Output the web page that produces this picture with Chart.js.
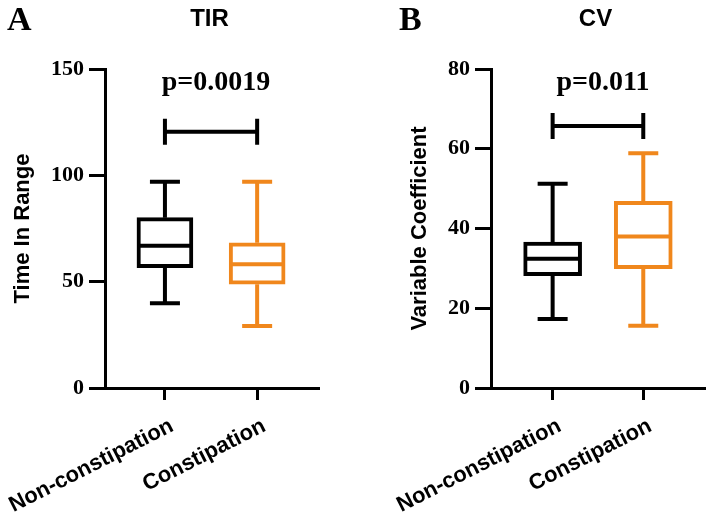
<!DOCTYPE html>
<html>
<head>
<meta charset="utf-8">
<script src="https://cdn.jsdelivr.net/npm/chart.js@4.4.1/dist/chart.umd.min.js"></script>
<style>
  html, body { margin: 0; padding: 0; background: #fff; }
  #wrap { position: relative; width: 708px; height: 513px; overflow: hidden; }
  canvas { position: absolute; top: 0; }
  #cA { left: 0; }
  #cB { left: 354px; }
</style>
</head>
<body>
<div id="wrap">
  <canvas id="cA" width="354" height="513"></canvas>
  <canvas id="cB" width="354" height="513"></canvas>
</div>
<script>
// ---------- data ----------
const categories = ['Non-constipation', 'Constipation'];
const seriesColors = ['#000000', '#F0871C'];

// Panel A: TIR (Time In Range)
const tirMin    = [39.8, 29.2];
const tirQ1     = [56.6, 48.8];
const tirMedian = [66.9, 58.2];
const tirQ3     = [80.1, 68.3];
const tirMax    = [97.0, 97.0];
const tirTicks  = [0, 50, 100, 150];
const tirBracket = 120.5;
const tirPText  = 'p=0.0019';

// Panel B: CV (Variable Coefficient)
const cvMin    = [17.3, 15.6];
const cvQ1     = [28.2, 29.9];
const cvMedian = [32.4, 38.0];
const cvQ3     = [36.6, 46.8];
const cvMax    = [51.2, 58.9];
const cvTicks  = [0, 20, 40, 60, 80];
const cvBracket = 65.7;
const cvPText  = 'p=0.011';

// ---------- helpers ----------
function makeBoxPlugin(stats, panel) {
  return {
    id: 'boxExtras' + panel.letter,
    afterDatasetsDraw(chart) {
      const ctx = chart.ctx;
      const xs = chart.scales.x, ys = chart.scales.y;
      const capHalf = 15;
      ctx.save();
      ctx.lineWidth = 4;
      ctx.lineCap = 'butt';
      for (let i = 0; i < categories.length; i++) {
        const cx = xs.getPixelForValue(i + 1);
        const yMin = ys.getPixelForValue(stats.min[i]);
        const yQ1 = ys.getPixelForValue(stats.q1[i]);
        const yMed = ys.getPixelForValue(stats.median[i]);
        const yQ3 = ys.getPixelForValue(stats.q3[i]);
        const yMax = ys.getPixelForValue(stats.max[i]);
        const half = panel.boxWidth / 2;
        ctx.strokeStyle = seriesColors[i];
        ctx.beginPath();
        // whiskers
        ctx.moveTo(cx, yQ1); ctx.lineTo(cx, yMin);
        ctx.moveTo(cx, yQ3); ctx.lineTo(cx, yMax);
        // caps
        ctx.moveTo(cx - capHalf, yMin); ctx.lineTo(cx + capHalf, yMin);
        ctx.moveTo(cx - capHalf, yMax); ctx.lineTo(cx + capHalf, yMax);
        // median
        ctx.moveTo(cx - half + 2, yMed); ctx.lineTo(cx + half - 2, yMed);
        ctx.stroke();
      }
      // significance bracket
      const x1 = xs.getPixelForValue(1), x2 = xs.getPixelForValue(2);
      const by = ys.getPixelForValue(panel.bracket);
      ctx.strokeStyle = '#000';
      ctx.beginPath();
      ctx.moveTo(x1, by); ctx.lineTo(x2, by);
      ctx.moveTo(x1, by - 13); ctx.lineTo(x1, by + 13);
      ctx.moveTo(x2, by - 13); ctx.lineTo(x2, by + 13);
      ctx.stroke();
      // p text
      ctx.fillStyle = '#000';
      ctx.font = 'bold 28px "Liberation Serif", "Times New Roman", serif';
      ctx.textAlign = 'center';
      ctx.textBaseline = 'middle';
      ctx.fillText(panel.pText, (x1 + x2) / 2 + 5, by - panel.pOffset);
      ctx.restore();
    },
    afterDraw(chart) {
      const ctx = chart.ctx;
      const ca = chart.chartArea;
      ctx.save();
      ctx.fillStyle = '#000';
      ctx.font = 'bold 24px "Liberation Sans", Arial, sans-serif';
      ctx.textAlign = 'center';
      ctx.textBaseline = 'middle';
      ctx.fillText(panel.title, (ca.left + ca.right) / 2 - 2, 19);
      ctx.font = 'bold 34px "Liberation Serif", "Times New Roman", serif';
      ctx.textAlign = 'left';
      ctx.textBaseline = 'alphabetic';
      ctx.fillText(panel.letter, panel.letterX, 30);
      ctx.restore();
    }
  };
}

function makeChart(canvasId, stats, ticksArr, yMax, panel) {
  const data = {
    datasets: [{
      label: panel.title,
      data: categories.map((c, i) => ({ x: i + 1, y: [stats.q1[i], stats.q3[i]] })),
      backgroundColor: '#ffffff',
      borderColor: seriesColors,
      borderWidth: 4,
      borderSkipped: false,
      barThickness: panel.boxWidth
    }]
  };
  return new Chart(document.getElementById(canvasId), {
    type: 'bar',
    data: data,
    plugins: [makeBoxPlugin(stats, panel)],
    options: {
      responsive: false,
      animation: false,
      devicePixelRatio: 1,
      layout: { autoPadding: false, padding: { top: 69, left: panel.padLeft, right: panel.padRight, bottom: 0 } },
      plugins: { legend: { display: false }, tooltip: { enabled: false }, title: { display: false } },
      scales: {
        x: {
          type: 'linear',
          min: panel.xMin,
          max: panel.xMax,
          offset: false,
          afterBuildTicks: (s) => { s.ticks = categories.map((c, i) => ({ value: i + 1 })); },
          afterFit: (s) => { s.height = 125; s.paddingLeft = 0; s.paddingRight = 0; },
          ticks: {
            callback: (v, idx) => categories[idx],
            autoSkip: false,
            minRotation: 27,
            maxRotation: 27,
            padding: 13,
            labelOffset: 7,
            color: '#000',
            font: { family: '"Liberation Sans", Arial, sans-serif', size: 22, weight: 'bold' }
          },
          grid: { display: true, offset: false, drawOnChartArea: false, drawTicks: true, tickLength: 12, lineWidth: 3, color: '#000' },
          border: { display: true, width: 3, color: '#000' }
        },
        y: {
          type: 'linear',
          min: 0,
          max: yMax,
          afterBuildTicks: (s) => { s.ticks = ticksArr.map(v => ({ value: v })); },
          afterFit: (s) => { s.width = panel.yWidth; s.paddingTop = 0; s.paddingBottom = 0; },
          ticks: {
            padding: 5,
            color: '#000',
            font: { family: '"Liberation Serif", "Times New Roman", serif', size: 22, weight: 'bold' }
          },
          title: {
            display: true,
            text: panel.yTitle,
            color: '#000',
            padding: { top: 4, bottom: 0 },
            font: { family: '"Liberation Sans", Arial, sans-serif', size: 22, weight: 'bold' }
          },
          grid: { display: true, drawOnChartArea: false, drawTicks: true, tickLength: 16, lineWidth: 3, color: '#000' },
          border: { display: true, width: 3, color: '#000' }
        }
      }
    }
  });
}

makeChart('cA',
  { min: tirMin, q1: tirQ1, median: tirMedian, q3: tirQ3, max: tirMax },
  tirTicks, 150,
  { letter: 'A', letterX: 7, title: 'TIR', yTitle: 'Time In Range', bracket: tirBracket, pText: tirPText,
    pOffset: 49, boxWidth: 56, padLeft: 6, padRight: 36, yWidth: 99, xMin: 0.35, xMax: 2.66 });

makeChart('cB',
  { min: cvMin, q1: cvQ1, median: cvMedian, q3: cvQ3, max: cvMax },
  cvTicks, 80,
  { letter: 'B', letterX: 45, title: 'CV', yTitle: 'Variable Coefficient', bracket: cvBracket, pText: cvPText,
    pOffset: 43, boxWidth: 58, padLeft: 49, padRight: 4, yWidth: 88, xMin: 0.32, xMax: 2.67 });
</script>
</body>
</html>
